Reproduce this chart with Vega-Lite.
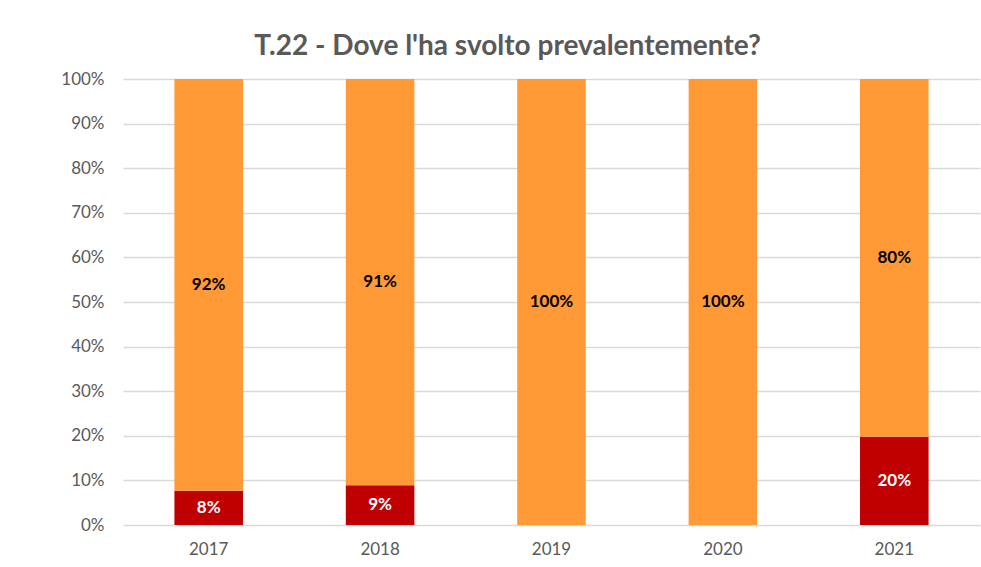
{
  "$schema": "https://vega.github.io/schema/vega-lite/v6.json",
  "autosize": "none",
  "width": 857,
  "height": 446,
  "padding": {"left": 123, "top": 79, "right": 1, "bottom": 42},
  "background": "white",
  "config": {
    "font": "Lato",
    "view": {"stroke": null},
    "axis": {"labelFont": "Lato", "labelColor": "#595959", "labelFontSize": 17}
  },
  "title": {
    "text": "T.22 - Dove l'ha svolto prevalentemente?",
    "font": "Lato",
    "fontSize": 28,
    "fontWeight": "bold",
    "color": "#595959",
    "anchor": "middle",
    "dx": -44,
    "offset": 9
  },
  "data": {
    "values": [
      {"anno": "2017", "serie": "A", "ord": 1, "v": 0.077},
      {"anno": "2017", "serie": "B", "ord": 2, "v": 0.923},
      {"anno": "2018", "serie": "A", "ord": 1, "v": 0.089},
      {"anno": "2018", "serie": "B", "ord": 2, "v": 0.911},
      {"anno": "2019", "serie": "A", "ord": 1, "v": 0.0},
      {"anno": "2019", "serie": "B", "ord": 2, "v": 1.0},
      {"anno": "2020", "serie": "A", "ord": 1, "v": 0.0},
      {"anno": "2020", "serie": "B", "ord": 2, "v": 1.0},
      {"anno": "2021", "serie": "A", "ord": 1, "v": 0.198},
      {"anno": "2021", "serie": "B", "ord": 2, "v": 0.802}
    ]
  },
  "transform": [
    {"stack": "v", "groupby": ["anno"], "sort": [{"field": "ord", "order": "ascending"}], "as": ["y0", "y1"]},
    {"calculate": "(datum.y0 + datum.y1) / 2", "as": "mid"}
  ],
  "encoding": {
    "x": {
      "field": "anno", "type": "nominal", "title": null,
      "scale": {"paddingInner": 0.6, "paddingOuter": 0.3},
      "axis": {"labelAngle": 0, "ticks": false, "domain": false, "labelPadding": 16, "grid": false}
    }
  },
  "layer": [
    {
      "mark": {"type": "bar"},
      "encoding": {
        "y": {
          "field": "y0", "type": "quantitative", "title": null,
          "scale": {"domain": [0, 1], "nice": false},
          "axis": {"format": ".0%", "values": [0,0.1,0.2,0.3,0.4,0.5,0.6,0.7,0.8,0.9,1], "labelOverlap": false, "domain": false, "ticks": false, "gridColor": "#d9d9d9", "gridWidth": 1.5, "labelPadding": 19}
        },
        "y2": {"field": "y1"},
        "color": {
          "field": "serie", "type": "nominal", "legend": null,
          "scale": {"domain": ["A", "B"], "range": ["#C00000", "#FF9A36"]}
        }
      }
    },
    {
      "transform": [{"filter": "datum.v > 0"}],
      "mark": {"type": "text", "fontWeight": "bold", "fontSize": 17, "font": "Lato", "baseline": "middle"},
      "encoding": {
        "y": {"field": "mid", "type": "quantitative"},
        "text": {"field": "v", "type": "quantitative", "format": ".0%"},
        "color": {
          "field": "serie", "type": "nominal", "legend": null,
          "scale": {"domain": ["A", "B"], "range": ["white", "black"]}
        }
      }
    }
  ],
  "resolve": {"scale": {"color": "independent"}}
}
